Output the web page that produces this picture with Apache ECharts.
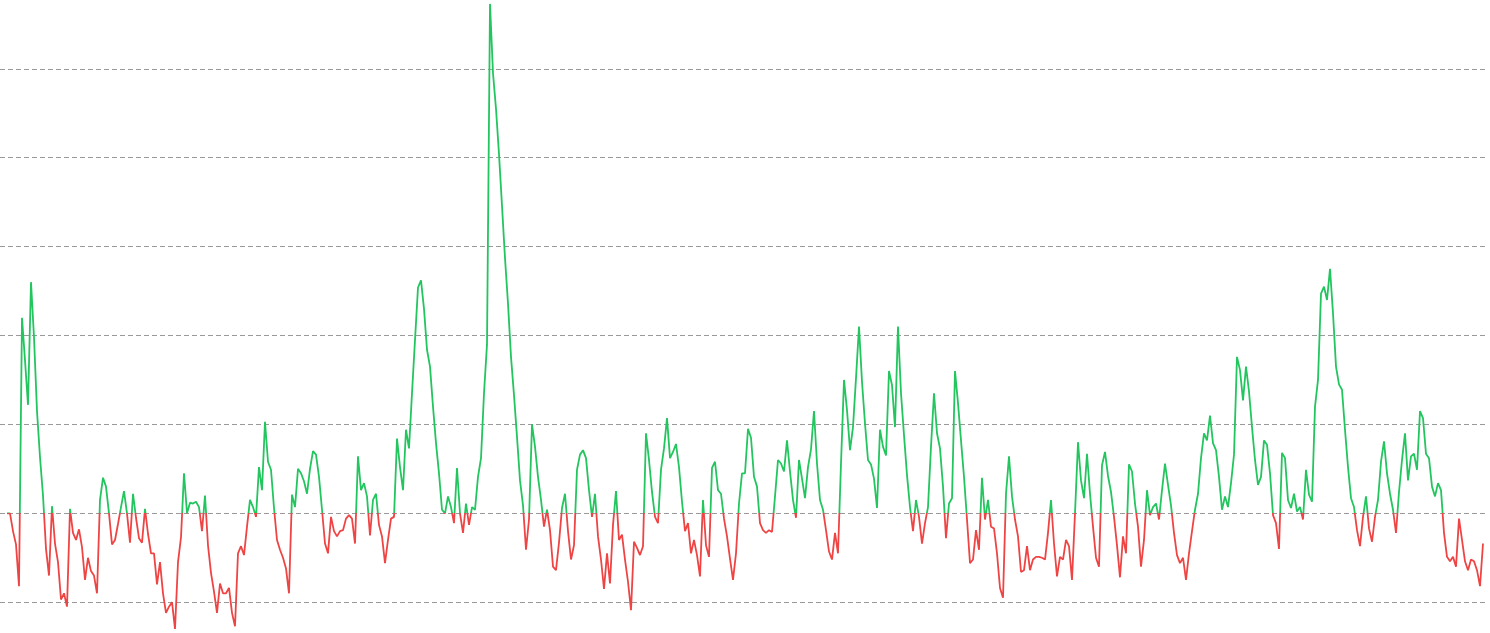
<!DOCTYPE html>
<html>
<head>
<meta charset="utf-8">
<script src="https://cdn.jsdelivr.net/npm/echarts@6/dist/echarts.min.js"></script>
<style>
html,body{margin:0;padding:0;background:#fff;overflow:hidden;width:1490px;height:633px;}
#wrap{position:relative;width:1490px;height:633px;overflow:hidden;}
#chart{position:absolute;left:0;top:-30px;width:1490px;height:750px;}
</style>
</head>
<body>
<div id="wrap"><div id="chart"></div></div>
<script>
// Series values (one point every ~3 px), split into parts
const valuesPart1 = [
  0, 0, -0.2, -0.35, -0.82, 2.2, 1.72, 1.22, 2.6, 1.98,
  1.15, 0.63, 0.2, -0.4, -0.7, 0.08, -0.34, -0.55, -0.97, -0.9,
  -1.05, 0.05, -0.22, -0.3, -0.18, -0.38, -0.75, -0.5, -0.65, -0.7,
  -0.9, 0.15, 0.4, 0.3, 0.0, -0.35, -0.3, -0.12, 0.07, 0.25,
  0.0, -0.33, 0.22, -0.05, -0.28, -0.33, 0.05, -0.23, -0.45, -0.45,
  -0.8, -0.55, -0.9, -1.12, -1.05, -1.0, -1.3, -0.55, -0.27, 0.45,
  0.0, 0.12, 0.11, 0.13, 0.07, -0.2, 0.2, -0.36, -0.67, -0.88,
  -1.12, -0.79, -0.9, -0.9, -0.84, -1.12, -1.27, -0.45, -0.37, -0.47,
  -0.15, 0.15, 0.07, -0.04, 0.52, 0.26, 1.03, 0.58, 0.49, 0.06,
  -0.3, -0.41, -0.5, -0.62, -0.9, 0.21, 0.07, 0.5, 0.45, 0.36,
  0.22, 0.5, 0.7, 0.66, 0.41, 0.04, -0.34, -0.45, -0.04, -0.2,
  -0.26, -0.2, -0.19, -0.06, -0.02, -0.06, -0.34, 0.64, 0.26, 0.34,
  0.19, -0.25, 0.15
];
const valuesPart2 = [
  0.22, -0.13, -0.26, -0.56, -0.3, -0.06, -0.04,
  0.84, 0.52, 0.26, 0.94, 0.73, 1.35, 1.95, 2.54, 2.62, 2.3,
  1.84, 1.65, 1.2, 0.79, 0.45, 0.04, 0, 0.19, 0.07, -0.11,
  0.51, 0, -0.22, 0.11, -0.13, 0.07, 0.04, 0.41, 0.62, 1.35,
  1.9, 5.73, 4.95, 4.55, 4.04, 3.46, 2.87, 2.36, 1.76, 1.33,
  0.86, 0.37, 0.09, -0.41, -0.07, 1.0, 0.75, 0.41, 0.15, -0.15,
  0.04, -0.19, -0.6, -0.64, -0.33, 0.06, 0.22, -0.2, -0.52, -0.36,
  0.49, 0.66, 0.71, 0.62, 0.26, -0.04, 0.22, -0.26, -0.52, -0.85,
  -0.45, -0.79, -0.13, 0.25, -0.3, -0.24, -0.52, -0.77, -1.09, -0.32,
  -0.39, -0.47, -0.37, 0.9, 0.6, 0.24, -0.04, -0.11, 0.49, 0.73,
  1.07, 0.62, 0.69, 0.78, 0.52, 0.13, -0.2, -0.11, -0.45, -0.3,
  -0.47, -0.71, 0.15, -0.36, -0.49, 0.51, 0.58, 0.26, 0.22, -0.06,
  -0.26, -0.51, -0.75, -0.45, 0.11, 0.45, 0.45, 0.95, 0.85, 0.41
];
const valuesPart3 = [
  0.3, -0.11, -0.19, -0.22, -0.19, -0.21, 0.19, 0.6, 0.56, 0.47,
  0.82, 0.47, 0.15, -0.05, 0.6, 0.39, 0.17, 0.52, 0.72, 1.15,
  0.56, 0.15, 0.04, -0.19, -0.43, -0.52, -0.22, -0.45, 0.56, 1.5,
  1.16, 0.71, 0.97, 1.52, 2.1, 1.48, 1.01, 0.6, 0.55, 0.39,
  0.06, 0.94, 0.75, 0.65, 1.6, 1.44, 0.97, 2.1, 1.35, 0.88,
  0.43, 0.07, -0.2, 0.15, -0.04, -0.34, -0.11, 0.07, 0.75, 1.35,
  0.9, 0.73, 0.3, -0.28, 0.11, 0.17, 1.6, 1.24, 0.82, 0.41,
  -0.07, -0.56, -0.52, -0.19, -0.41, 0.4, -0.07, 0.15, -0.15, -0.17,
  -0.45, -0.84, -0.95, 0.22, 0.64, 0.19, -0.07, -0.26, -0.66, -0.64,
  -0.37, -0.64, -0.52, -0.49, -0.49, -0.5, -0.52, -0.22, 0.15, -0.34,
  -0.71, -0.49, -0.52, -0.3, -0.37, -0.75, 0, 0.8, 0.37, 0.17,
  0.67, 0.22, -0.15, -0.5, -0.6, 0.54, 0.69, 0.42, 0.24, -0.04
];
const valuesPart4 = [
  -0.36, -0.72, -0.26, -0.45, 0.55, 0.47, 0.11, -0.15, -0.6, -0.3,
  0.26, -0.02, 0.07, 0.11, -0.07, 0.26, 0.56, 0.32, 0.09, -0.22,
  -0.47, -0.56, -0.5, -0.75, -0.45, -0.2, 0.04, 0.22, 0.62, 0.9,
  0.82, 1.1, 0.79, 0.71, 0.41, 0.04, 0.19, 0.07, 0.34, 0.66,
  1.76, 1.61, 1.27, 1.65, 1.37, 0.97, 0.6, 0.32, 0.41, 0.82,
  0.77, 0.45, -0.02, -0.11, -0.4, 0.68, 0.62, 0.15, 0.06, 0.22,
  0.02, 0.07, -0.07, 0.49, 0.21, 0.13, 1.2, 1.5, 2.47, 2.55,
  2.4, 2.75, 2.25, 1.65, 1.45, 1.39, 0.94, 0.52, 0.17, 0.07,
  -0.19, -0.37, -0.04, 0.19, -0.17, -0.32, -0.04, 0.15, 0.58, 0.81,
  0.45, 0.22, 0.04, -0.22, 0.24, 0.6, 0.9, 0.37, 0.64, 0.67,
  0.49, 1.15, 1.07, 0.67, 0.62, 0.3, 0.19, 0.34, 0.26, -0.22,
  -0.49, -0.54, -0.49, -0.6, -0.06, -0.3, -0.54, -0.64, -0.52, -0.54,
  -0.64, -0.82, -0.34
];
const values = valuesPart1.concat(valuesPart2, valuesPart3, valuesPart4);
const seriesData = values.map((v, i) => [i, v]);
const n = values.length;
const upColor = '#22c55e';
const downColor = '#ef4444';

const el = document.getElementById('chart');
const chart = echarts.init(el, null, {renderer: 'canvas'});
const option = {
  animation: false,
  backgroundColor: '#ffffff',
  grid: { left: 0, right: 3, top: 9.9, bottom: 28.9, containLabel: false },
  xAxis: {
    type: 'value',
    min: -2.333,
    max: (n - 1) + 1.333,
    show: false,
    splitLine: { show: false }
  },
  yAxis: {
    type: 'value',
    min: -2,
    max: 6,
    interval: 1,
    axisLine: { show: false },
    axisTick: { show: false },
    axisLabel: { show: false },
    splitLine: { show: true, lineStyle: { color: '#9a9a9a', type: [5, 3], width: 1 } }
  },
  series: [{
    type: 'line',
    data: seriesData,
    showSymbol: false,
    symbol: 'none',
    lineStyle: { width: 1.8, color: upColor }
  }]
};
chart.setOption(option);
// colour split at the zero line, located through the y axis scale
const h = el.clientHeight;
const zeroY = chart.convertToPixel({ yAxisIndex: 0 }, 0);
const off = Math.min(1, Math.max(0, zeroY / h));
chart.setOption({
  series: [{
    lineStyle: {
      width: 1.8,
      color: new echarts.graphic.LinearGradient(0, 0, 0, h, [
        { offset: 0, color: upColor },
        { offset: off, color: upColor },
        { offset: off, color: downColor },
        { offset: 1, color: downColor }
      ], true)
    }
  }]
});
</script>
</body>
</html>
